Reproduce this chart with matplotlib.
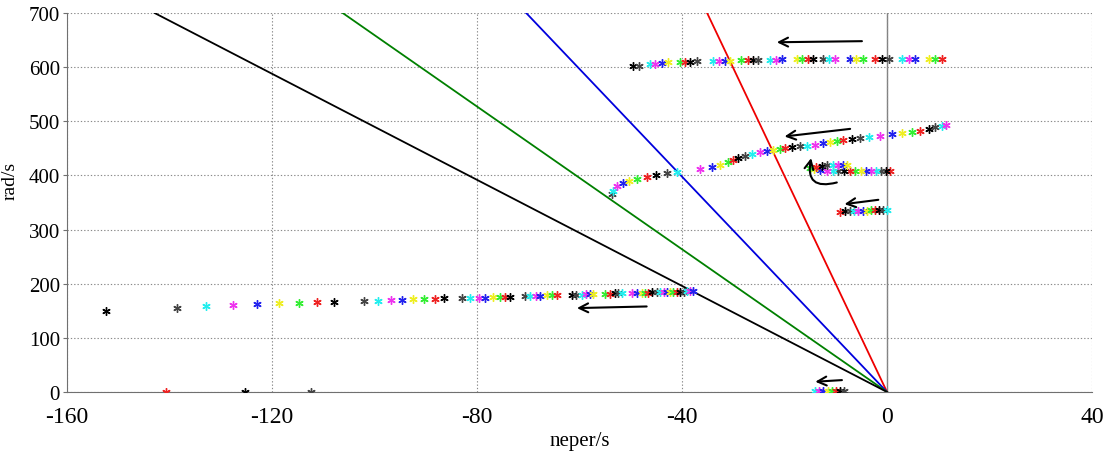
import matplotlib
matplotlib.use("Agg")
import matplotlib.pyplot as plt

plt.rcParams["font.family"] = ["Liberation Serif", "DejaVu Serif"]
plt.rcParams["axes.unicode_minus"] = False

# damping lines: x where each line reaches 700 rad/s (red, blue, green, black)
zeta_x_at_top = [-35.1, -70.4, -106.2, -142.9]
zeta_colors = ["#ee0000", "#0000dd", "#008000", "#000000"]

# eigenvalue loci (neper/s, rad/s)
low_x = [-152.4, -138.6, -132.9, -127.7, -123.0, -118.6, -114.7, -111.2, -107.9,
         -102.0, -99.4, -96.8, -94.6, -92.4, -90.3, -88.2, -86.4, -83.0, -81.4,
         -79.7, -78.4, -76.9, -75.5, -74.5, -73.6, -70.6, -69.7, -68.5, -67.7,
         -66.4, -65.4, -64.4, -61.5, -60.7, -59.6, -58.7, -58.0, -57.3, -55.0,
         -54.0, -53.1, -52.4, -51.8, -49.8, -48.8, -47.9, -47.2, -46.6, -45.9,
         -44.9, -44.3, -43.6, -43.0, -42.3, -41.7, -41.0, -40.4, -39.7, -39.1,
         -38.4, -37.8]
low_y = [149, 156, 159, 161, 162, 164, 165, 166, 167, 168, 169, 170, 170, 171,
         172, 172, 173, 173.5, 174, 174, 174.5, 175, 175.5, 176, 176, 177, 177.5,
         178, 178, 178.5, 179, 179, 179.5, 180, 180, 180.5, 180.5, 181, 181,
         181.5, 182, 182, 182, 182.5, 183, 183, 183.5, 183.5, 184, 184, 184,
         184.5, 184.5, 185, 185, 185, 185.5, 185.5, 186, 186, 186.5]

mid_x = [-53.7, -53.4, -52.7, -51.6, -50.3, -48.7, -46.9, -45.1, -43.0, -40.9,
         -36.4, -34.2, -32.6, -31.0, -30.0, -29.0, -27.7, -26.4, -24.8, -23.5,
         -22.2, -20.9, -19.9, -18.6, -17.0, -15.7, -14.0, -12.4, -11.1, -9.8,
         -8.5, -6.9, -5.3, -3.6, -1.4, 0.9, 2.9, 4.8, 6.4, 8.1, 9.4, 10.7, 11.6]
mid_y = [366, 371, 381, 386, 390, 393, 396.5, 401, 404, 407, 412, 415, 419, 425,
         429, 432, 436.5, 439.6, 443.8, 445.7, 447.6, 448.8, 450, 452, 453.8, 455,
         456.8, 459, 461, 463, 465, 466.7, 469, 471.5, 473.4, 476, 478, 480.8,
         483, 485.8, 488.9, 491.9, 493.7]

loop_x = [0.6, -0.2, -1.1, -2.1, -3.1, -4.1, -5.1, -6.2, -7.3, -8.4, -9.5, -10.6,
          -11.8, -13.0, -14.2, -15.0, -13.8, -12.7, -11.7, -10.5, -9.5, -8.6, -7.9]
loop_y = [409, 408.5, 408, 408, 408, 407.5, 407.5, 407.5, 407.5, 407.5, 408, 408,
          408.5, 409.5, 411, 413, 416, 418, 419, 419, 419.5, 419.5, 420]

small_x = [-9.2, -8.2, -7.2, -6.4, -5.6, -4.7, -4.0, -3.2, -2.3, -1.5, -0.7, -0.1]
small_y = [333, 333.5, 334, 334, 334.5, 335, 335, 335.5, 336, 336, 336.5, 337]

top_x = [-49.5, -48.3, -46.2, -45.3, -44.0, -42.7, -40.4, -39.4, -38.4, -37.1,
         -33.9, -32.7, -31.6, -30.6, -28.4, -27.2, -26.1, -25.1, -22.8, -21.7,
         -20.4, -17.6, -16.5, -15.4, -14.4, -12.4, -11.3, -10.1, -7.2, -6.0,
         -4.6, -2.3, -1.0, 0.3, 2.9, 4.2, 5.5, 8.1, 9.4, 10.7]
top_y = [601.5, 602.8, 605.8, 606.5, 607.1, 608.9, 609.5, 609.8, 610.2, 610.8,
         611.4, 611.6, 611.8, 612.0, 612.6, 612.8, 613.0, 613.2, 613.8, 614.0,
         614.2, 614.5, 614.5, 614.6, 614.6, 614.8, 614.8, 614.8, 615.0, 615.0,
         615.0, 615.1, 615.1, 615.1, 615.1, 615.1, 615.1, 615.1, 615.1, 615.1]

zero_x = [-140.7, -125.2, -112.4, -14.0, -13.2, -12.4, -11.6, -10.8, -10.0, -9.2, -8.4]
zero_y = [0.5, 0.5, 0.5, 1.2, 1.2, 1.2, 1.2, 1.2, 1.2, 1.2, 1.2]

marker_colors = ["#22eeee", "#ee33ee", "#2222ee", "#eeee22", "#33ee33", "#ee2222",
                 "#000000", "#444444"]

# hand-drawn arrows: (start, end, curvature)
arrows = [((-4.9, 648), (-21.5, 646), 0.0),
          ((-7.2, 486), (-20.0, 472), 0.0),
          ((-9.8, 387), (-14.8, 432), -0.8),
          ((-1.7, 355), (-8.3, 347), 0.0),
          ((-46.9, 158), (-60.5, 155), 0.0),
          ((-8.8, 22), (-14.0, 19), 0.0)]

fig = plt.figure(figsize=(11.07, 4.52), dpi=100)
ax = fig.add_axes([0.0605, 0.1305, 0.926, 0.8385])

for xt, c in zip(zeta_x_at_top, zeta_colors):
    ax.plot([0, xt], [0, 700], color=c, lw=1.3, zorder=2)

for xs, ys, start in [(low_x, low_y, 6), (mid_x, mid_y, 7), (loop_x, loop_y, 5),
                      (small_x, small_y, 5), (top_x, top_y, 6), (zero_x, zero_y, 5)]:
    for i, (x, y) in enumerate(zip(xs, ys)):
        ax.plot(x, y, linestyle="none", marker=(6, 2, 0), markersize=6,
                mew=1.0, color=marker_colors[(start + i) % len(marker_colors)],
                zorder=3)

for (x0, y0), (x1, y1), rad in arrows:
    ax.annotate("", xy=(x1, y1), xytext=(x0, y0),
                arrowprops=dict(arrowstyle="->", color="black", lw=1.5,
                                mutation_scale=16, shrinkA=0, shrinkB=0,
                                connectionstyle=f"arc3,rad={rad}"),
                zorder=4)

ax.axvline(0, color="#808080", lw=1.0, zorder=1)

ax.set_xlim(-160, 40)
ax.set_ylim(0, 700)
ax.set_xticks(range(-160, 41, 40))
ax.set_yticks(range(0, 701, 100))
ax.grid(True, color="#8a8a8a", linestyle=(0, (1.2, 1.8)), lw=0.8)

for side in ["top", "right"]:
    ax.spines[side].set_visible(False)
ax.spines["left"].set_color("#707070")
ax.spines["bottom"].set_color("#707070")

ax.tick_params(axis="x", length=0, pad=10, labelsize=17)
ax.tick_params(axis="y", length=3, width=0.8, color="#707070", pad=2, labelsize=15)

ax.set_xlabel("neper/s", fontsize=15, labelpad=3)
ax.set_ylabel("rad/s", fontsize=14)
ax.yaxis.set_label_coords(-0.047, 0.56)

fig.savefig("out.png", dpi=100)
